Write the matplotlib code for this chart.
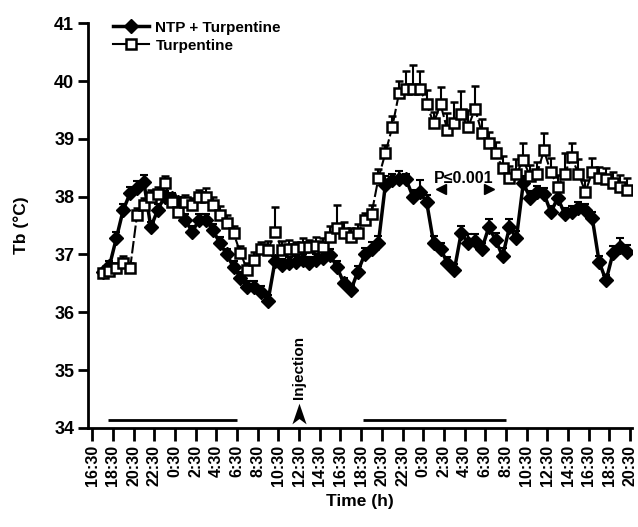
import numpy as np
import matplotlib
matplotlib.use("Agg")
import matplotlib.pyplot as plt
from matplotlib.lines import Line2D

plt.rcParams['font.family'] = ['Liberation Sans', 'DejaVu Sans']
plt.rcParams['font.weight'] = 'bold'

# time in hours after 16:30 on day 1, one reading every 40 min
hours = 1.0 + np.arange(77) * (2.0 / 3.0)

ntp_turp = [36.70, 36.80, 37.28, 37.77, 38.06, 38.15, 38.25, 37.47, 37.77, 38.00,
            37.97, 37.90, 37.60, 37.39, 37.60, 37.60, 37.42, 37.20, 37.00, 36.78,
            36.60, 36.44, 36.44, 36.35, 36.20, 36.88, 36.82, 36.85, 36.87, 36.90,
            36.85, 36.90, 36.94, 36.99, 36.78, 36.50, 36.38, 36.70, 37.00, 37.10,
            37.20, 38.20, 38.28, 38.30, 38.30, 38.00, 38.08, 37.90, 37.20, 37.10,
            36.85, 36.73, 37.37, 37.20, 37.24, 37.10, 37.47, 37.25, 36.97, 37.47,
            37.28, 38.23, 37.98, 38.08, 38.05, 37.73, 37.98, 37.70, 37.73, 37.80,
            37.77, 37.63, 36.87, 36.55, 37.02, 37.13, 37.05]
ntp_err = [0.05, 0.08, 0.10, 0.10, 0.10, 0.12, 0.12, 0.10, 0.10, 0.10,
           0.10, 0.10, 0.10, 0.10, 0.10, 0.10, 0.10, 0.10, 0.10, 0.10,
           0.10, 0.10, 0.10, 0.10, 0.10, 0.10, 0.10, 0.10, 0.10, 0.10,
           0.10, 0.10, 0.10, 0.10, 0.10, 0.10, 0.10, 0.10, 0.12, 0.12,
           0.12, 0.15, 0.12, 0.15, 0.10, 0.12, 0.20, 0.12, 0.12, 0.10,
           0.10, 0.10, 0.12, 0.15, 0.12, 0.10, 0.15, 0.12, 0.15, 0.15,
           0.12, 0.12, 0.12, 0.10, 0.10, 0.10, 0.10, 0.10, 0.10, 0.10,
           0.10, 0.10, 0.10, 0.10, 0.12, 0.15, 0.12]

turp = [36.68, 36.72, 36.76, 36.85, 36.76, 37.68, 37.85, 37.99, 38.05, 38.23,
        37.90, 37.73, 37.90, 37.85, 37.99, 38.00, 37.85, 37.68, 37.54, 37.37,
        37.02, 36.73, 36.90, 37.10, 37.08, 37.39, 37.08, 37.10, 37.10, 37.13,
        37.13, 37.15, 37.13, 37.30, 37.45, 37.37, 37.30, 37.37, 37.60, 37.70,
        38.32, 38.75, 39.20, 39.80, 39.87, 39.87, 39.87, 39.60, 39.27, 39.60,
        39.15, 39.28, 39.43, 39.20, 39.52, 39.10, 38.92, 38.75, 38.50, 38.33,
        38.40, 38.63, 38.35, 38.40, 38.80, 38.42, 38.17, 38.40, 38.68, 38.40,
        38.08, 38.42, 38.32, 38.30, 38.23, 38.17, 38.12]
turp_err = [0.05, 0.08, 0.10, 0.12, 0.10, 0.12, 0.12, 0.12, 0.12, 0.12,
            0.15, 0.15, 0.12, 0.12, 0.12, 0.15, 0.15, 0.15, 0.15, 0.12,
            0.12, 0.12, 0.15, 0.12, 0.15, 0.43, 0.15, 0.15, 0.12, 0.15,
            0.12, 0.15, 0.15, 0.20, 0.40, 0.20, 0.15, 0.15, 0.12, 0.15,
            0.15, 0.15, 0.20, 0.20, 0.30, 0.40, 0.30, 0.25, 0.20, 0.30,
            0.30, 0.35, 0.40, 0.30, 0.40, 0.25, 0.20, 0.20, 0.20, 0.20,
            0.25, 0.30, 0.20, 0.20, 0.30, 0.25, 0.20, 0.35, 0.25, 0.25,
            0.20, 0.25, 0.20, 0.20, 0.20, 0.20, 0.20]

tick_labels = ["16:30", "18:30", "20:30", "22:30", "0:30", "2:30", "4:30", "6:30",
               "8:30", "10:30", "12:30", "14:30", "16:30", "18:30", "20:30", "22:30",
               "0:30", "2:30", "4:30", "6:30", "8:30", "10:30", "12:30", "14:30",
               "16:30", "18:30", "20:30"]
tick_hours = np.arange(len(tick_labels)) * 2

# dark periods (hours after 16:30)
dark_periods = [(1.5, 14.0), (26.2, 40.0)]
injection_hour = 20

fig = plt.figure(figsize=(6.38, 5.27), dpi=100)
ax = fig.add_axes([0.138, 0.188, 0.853, 0.768])

ax.errorbar(hours, ntp_turp, yerr=[np.zeros(len(ntp_err)), ntp_err], color='black',
            lw=2.5, marker='D', ms=7.5, mfc='black', mec='black', ecolor='black',
            elinewidth=1.5, capsize=3, capthick=1.5, zorder=3)
ax.errorbar(hours, turp, yerr=[np.zeros(len(turp_err)), turp_err], color='black',
            lw=1.5, dashes=(6, 1.5), marker='s', ms=7, mfc='white', mec='black', mew=1.8,
            ecolor='black', elinewidth=1.5, capsize=3, capthick=1.5, zorder=4)

for a, b in dark_periods:
    ax.plot([a, b], [34.13, 34.13], color='black', lw=2, solid_capstyle='butt', zorder=2)

# injection arrowhead
arrow_marker = [(0, 1), (0.6, -0.75), (0, -0.3), (-0.6, -0.75), (0, 1)]
ax.plot([injection_hour], [34.22], marker=arrow_marker, ms=17, color='black',
        mew=0, clip_on=False, zorder=5)
ax.text(injection_hour, 34.5, 'Injection', rotation=90, ha='center', va='bottom',
        fontsize=11, fontweight='bold')

ax.text(35.9, 38.32, 'P\u22640.001', ha='center', va='center', fontsize=11.5, fontweight='bold')
ax.plot([33.7], [38.14], marker='<', color='black', ms=7, clip_on=False)
ax.plot([38.4], [38.14], marker='>', color='black', ms=7, clip_on=False)

ax.set_xlim(-0.4, 52.2)
ax.set_ylim(34, 41)
ax.set_xticks(tick_hours)
ax.set_xticklabels(tick_labels, rotation=90, fontsize=11.5, fontweight='bold')
ax.set_yticks(np.arange(34, 42))
ax.set_yticklabels([str(v) for v in range(34, 42)], fontsize=13, fontweight='bold')
ax.tick_params(axis='x', direction='out', length=9, width=2, pad=3)
ax.tick_params(axis='y', direction='out', length=7, width=2, pad=3)
for s in ['top', 'right']:
    ax.spines[s].set_visible(False)
for s in ['left', 'bottom']:
    ax.spines[s].set_linewidth(2)

ax.set_xlabel('Time (h)', fontsize=12.5, fontweight='bold', labelpad=6)
ax.set_ylabel('Tb (\u00b0C)', fontsize=12.5, fontweight='bold', labelpad=18)

handles = [Line2D([], [], color='black', lw=2.5, marker='D', ms=7.5),
           Line2D([], [], color='black', lw=1.5, marker='s', ms=7, mfc='white', mew=1.8)]
leg = ax.legend(handles, ['NTP + Turpentine', 'Turpentine'], loc='upper left',
                bbox_to_anchor=(0.02, 1.04), frameon=False, fontsize=11,
                handlelength=2.4, handletextpad=0.4, labelspacing=0.25)
for t in leg.get_texts():
    t.set_fontweight('bold')

fig.savefig('out.png', dpi=100)
